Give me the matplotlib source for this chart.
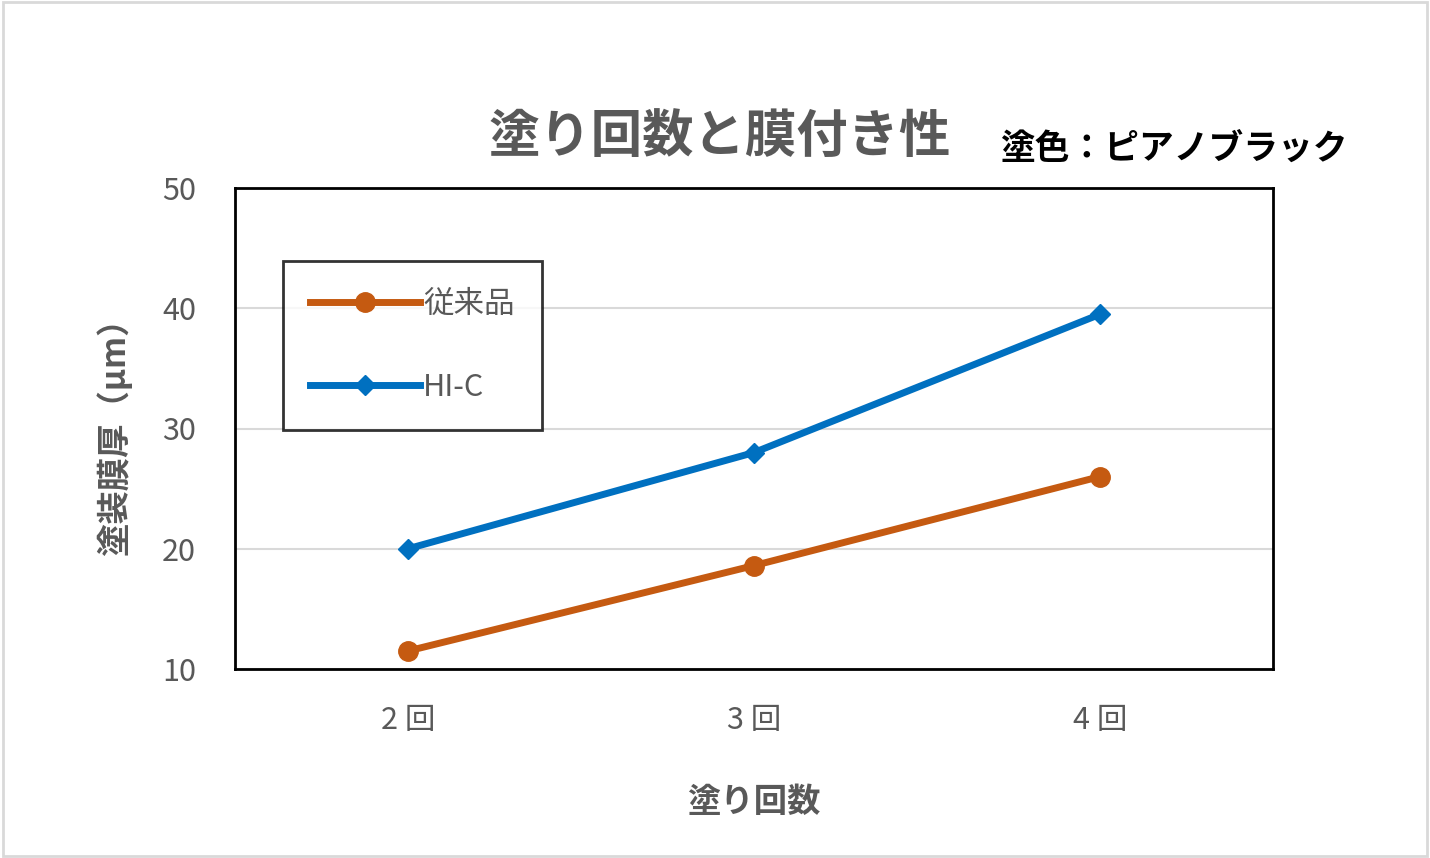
import matplotlib
matplotlib.use("Agg")
import matplotlib.pyplot as plt
from matplotlib.patches import Rectangle

plt.rcParams['font.family'] = ['Noto Sans CJK JP', 'DejaVu Sans']

categories = ['2 回', '3 回', '4 回']
conventional = [11.5, 18.6, 26.0]
hic = [20.0, 28.0, 39.5]

fig = plt.figure(figsize=(14.3, 8.58), dpi=100)
fig.patches.append(Rectangle((0.002, 0.002), 0.996, 0.996, transform=fig.transFigure,
                             fill=False, edgecolor='#d9d9d9', linewidth=2))
ax = fig.add_axes([235/1430, 1-669/858, 1038/1430, 481/858])
x = list(range(len(categories)))
ax.plot(x, conventional, color='#c55a11', lw=5, marker='o', ms=14, label='従来品')
ax.plot(x, hic, color='#0070c0', lw=5, marker='D', ms=10, label='HI-C')
ax.set_xlim(-0.5, 2.5)
ax.set_ylim(10, 50)
ax.set_yticks([10, 20, 30, 40, 50])
ax.set_xticks(x)
ax.set_xticklabels(categories)
ax.tick_params(length=0, labelsize=22, labelcolor='#595959')
ax.tick_params(axis='y', pad=28)
ax.tick_params(axis='x', pad=26)
ax.grid(axis='y', color='#d9d9d9', lw=1.5)
ax.set_axisbelow(True)
for s in ax.spines.values():
    s.set_color('black'); s.set_linewidth(2)
ax.set_ylabel('塗装膜厚（μm）', fontsize=24, fontweight='bold', color='#595959', labelpad=22)
ax.set_xlabel('塗り回数', fontsize=24, fontweight='bold', color='#595959', labelpad=36)
leg = ax.legend(loc='upper left', bbox_to_anchor=(0.046, 0.848), fontsize=22, frameon=True,
                fancybox=False, edgecolor='black', labelspacing=1.7, handlelength=3.6,
                borderpad=0.9, handletextpad=0.1, borderaxespad=0)
leg.get_frame().set_linewidth(2)
for t in leg.get_texts():
    t.set_color('#595959')
fig.text(720/1430, 1-136/858, '塗り回数と膜付き性', fontsize=37, fontweight='bold',
         color='#595959', ha='center', va='center')
fig.text(1000/1430, 1-148/858, '塗色：ピアノブラック', fontsize=25, fontweight='bold',
         color='black', ha='left', va='center')
fig.savefig('out.png', dpi=100)
